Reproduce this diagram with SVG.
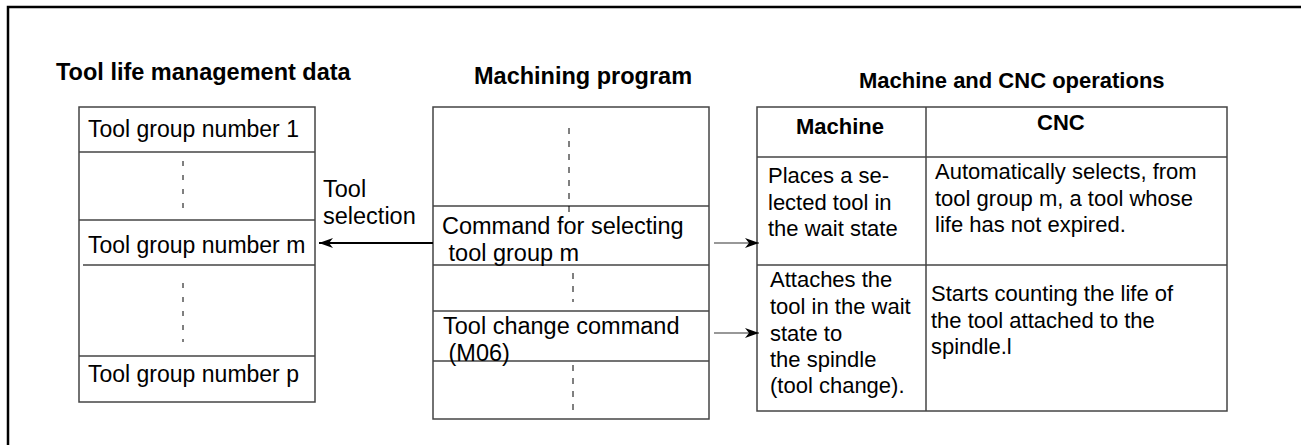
<svg xmlns="http://www.w3.org/2000/svg" width="1301" height="445" viewBox="0 0 1301 445">
<defs>
<style>
text{font-family:"Liberation Sans",Arial,sans-serif;fill:#000}
.h{font-weight:bold}
.box{fill:#fff;stroke:#444;stroke-width:1.5}
.ln{stroke:#444;stroke-width:1.5;fill:none}
.dash{stroke:#000;stroke-width:1;stroke-dasharray:5,9;fill:none}
.dash2{stroke:#000;stroke-width:1;stroke-dasharray:6,7;fill:none}
.t23{font-size:23px}
.t235{font-size:23.5px}
.t22{font-size:22px}
</style>
<marker id="ah" viewBox="0 0 14 10" refX="14" refY="5" markerWidth="14" markerHeight="10" markerUnits="userSpaceOnUse" orient="auto">
<path d="M14,5 L0,0 L4,5 L0,10 Z" fill="#000"/>
</marker>
</defs>
<rect width="1301" height="445" fill="#fff"/>
<path d="M8,445 V7 H1301" fill="none" stroke="#000" stroke-width="2.5"/>

<text class="h t235" x="56" y="80">Tool life management data</text>
<text class="h t235" x="474" y="84">Machining program</text>
<text class="h t22" x="859" y="88">Machine and CNC operations</text>

<g id="tool-data">
<rect class="box" x="79" y="107" width="236" height="295"/>
<line class="ln" x1="79" y1="152" x2="315" y2="152"/>
<line class="ln" x1="79" y1="220" x2="315" y2="220"/>
<line class="ln" x1="83" y1="265" x2="315" y2="265"/>
<line class="ln" x1="79" y1="356" x2="315" y2="356"/>
<line class="dash" x1="183" y1="161" x2="183" y2="213"/>
<line class="dash" x1="183" y1="283" x2="183" y2="342"/>
<text class="t23" x="88" y="137">Tool group number 1</text>
<text class="t23" x="88" y="253">Tool group number m</text>
<text class="t23" x="88" y="382">Tool group number p</text>
</g>

<g id="program">
<rect class="box" x="433" y="107" width="276" height="312"/>
<line class="ln" x1="433" y1="206" x2="709" y2="206"/>
<line class="ln" x1="433" y1="265" x2="709" y2="265"/>
<line class="ln" x1="433" y1="311" x2="709" y2="311"/>
<line class="ln" x1="433" y1="361" x2="709" y2="361"/>
<line class="dash2" x1="569" y1="128" x2="569" y2="212"/>
<line class="dash2" x1="573" y1="273" x2="573" y2="302"/>
<line class="dash2" x1="573" y1="365" x2="573" y2="414"/>
<text class="t235" x="442" y="234">Command for selecting</text>
<text class="t235" x="442" y="261" xml:space="preserve"> tool group m</text>
<text class="t235" x="443" y="334">Tool change command</text>
<text class="t235" x="442" y="361" xml:space="preserve"> (M06)</text>
</g>

<g id="operations">
<rect class="box" x="757" y="107" width="470" height="304"/>
<line class="ln" x1="926" y1="107" x2="926" y2="411"/>
<line class="ln" x1="757" y1="157" x2="1227" y2="157"/>
<line class="ln" x1="757" y1="265" x2="1227" y2="265"/>
<text class="h t22" x="796" y="134">Machine</text>
<text class="h t22" x="1037" y="130">CNC</text>
<text class="t22" x="768" y="183">Places a se-</text>
<text class="t22" x="768" y="210">lected tool in</text>
<text class="t22" x="768" y="236">the wait state</text>
<text class="t22" x="935" y="179">Automatically selects, from</text>
<text class="t22" x="935" y="206">tool group m, a tool whose</text>
<text class="t22" x="935" y="232">life has not expired.</text>
<text class="t22" x="770" y="287">Attaches the</text>
<text class="t22" x="770" y="314">tool in the wait</text>
<text class="t22" x="770" y="341">state to</text>
<text class="t22" x="770" y="367">the spindle</text>
<text class="t22" x="770" y="393">(tool change).</text>
<text class="t22" x="931" y="301">Starts counting the life of</text>
<text class="t22" x="931" y="328">the tool attached to the</text>
<text class="t22" x="931" y="354">spindle.l</text>
</g>

<g id="connectors">
<line x1="433" y1="243" x2="319" y2="243" stroke="#000" stroke-width="2.2" marker-end="url(#ah)"/>
<line x1="714" y1="243" x2="759" y2="243" stroke="#333" stroke-width="1.2" marker-end="url(#ah)"/>
<line x1="714" y1="333" x2="759" y2="333" stroke="#333" stroke-width="1.2" marker-end="url(#ah)"/>
<text class="t235" x="323" y="197">Tool</text>
<text class="t235" x="323" y="224">selection</text>
</g>
</svg>
